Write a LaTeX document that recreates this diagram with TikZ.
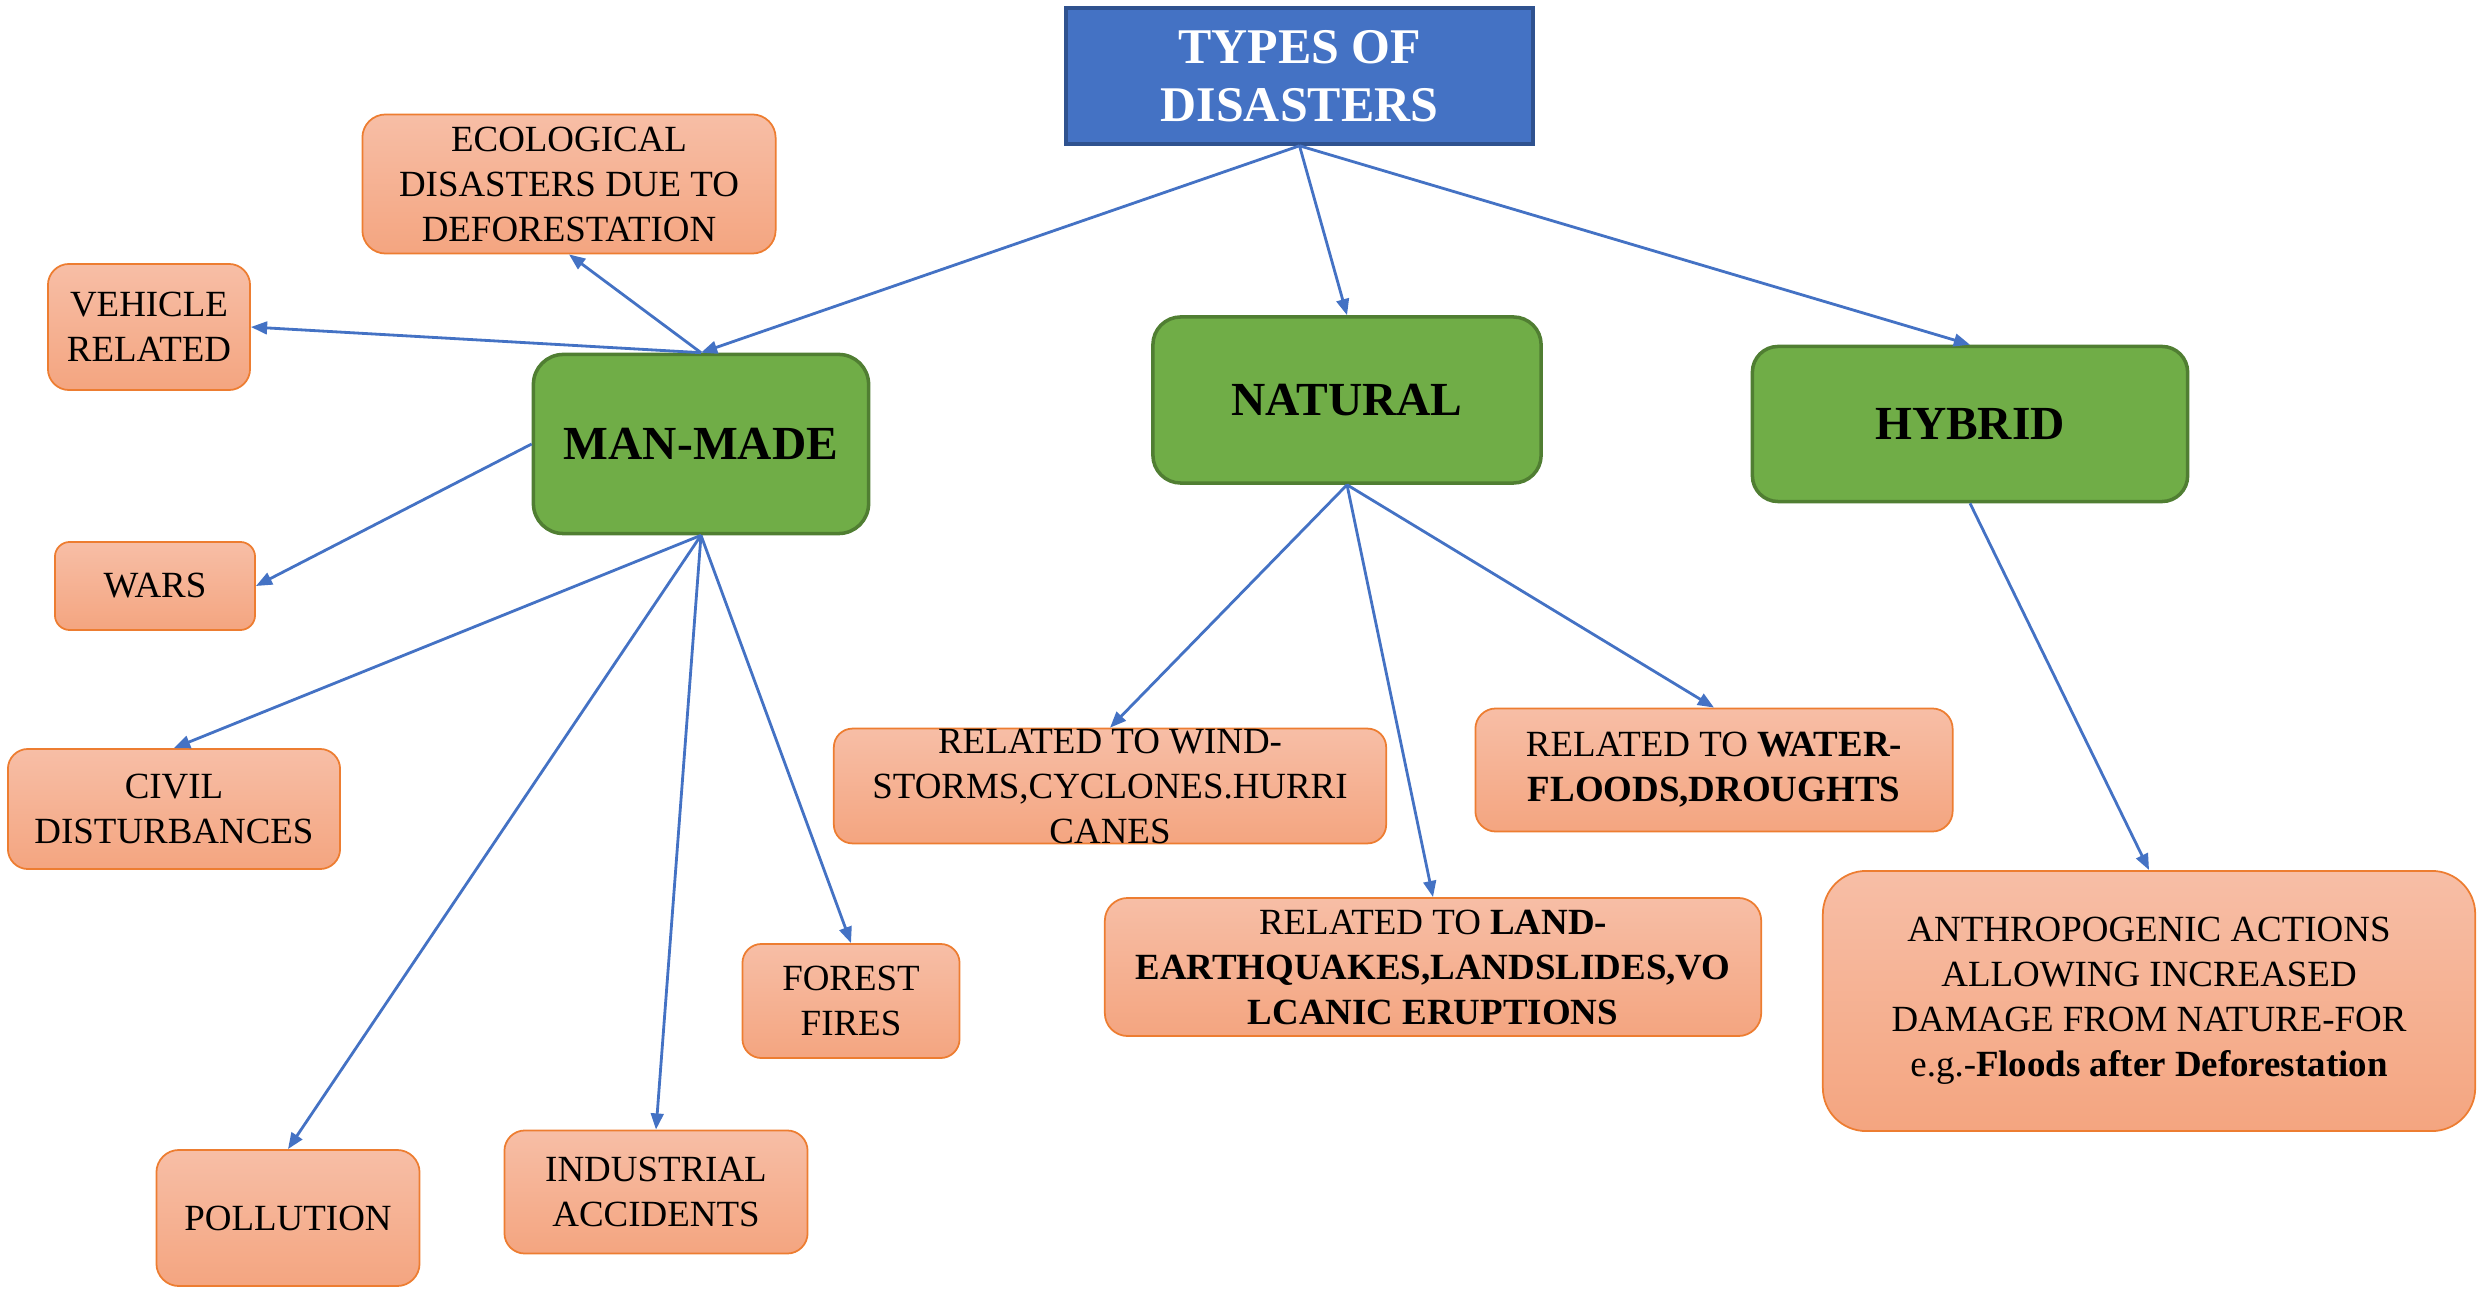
\documentclass[tikz,border=0pt]{standalone}
\usepackage{fontspec}
\setmainfont{Liberation Serif}
\usepackage{xcolor}
\usetikzlibrary{arrows.meta,positioning}

\definecolor{headfill}{HTML}{4472C4}
\definecolor{headline}{HTML}{2F528F}
\definecolor{groupfill}{HTML}{70AD47}
\definecolor{groupline}{HTML}{507E32}
\definecolor{leaftop}{HTML}{F7BEA6}
\definecolor{leafbot}{HTML}{F4A580}
\definecolor{leafline}{HTML}{ED7D31}
\definecolor{linkblue}{HTML}{4472C4}

\tikzset{
    head/.style={draw=headline, line width=1pt, fill=headfill, text=white, align=center, inner sep=0pt,
        font=\fontsize{14.2}{16.4}\selectfont\bfseries},
    group/.style={draw=groupline, line width=1pt, fill=groupfill, align=center, inner sep=0pt,
        font=\fontsize{13.5}{16}\selectfont\bfseries},
    leaf/.style={draw=leafline, line width=0.5pt, top color=leaftop, bottom color=leafbot, align=center, inner sep=0pt,
        font=\fontsize{10.5}{12.8}\selectfont},
    link/.style={-{Triangle[length=4.6pt,width=3.6pt]}, draw=linkblue, line width=0.8pt},
}

\begin{document}
\begin{tikzpicture}[x=0.01cm, y=-0.01cm]
    \useasboundingbox (0,0) rectangle (2483,1289);

    % top of the tree
    \node[head, minimum width=4.67cm, minimum height=1.36cm] (types) at (1299.5,76) {TYPES OF\\DISASTERS};

    % the three groups
    \node[group, minimum width=3.35cm, minimum height=1.79cm, rounded corners=8.5pt] (manmade) at (701,444) {MAN-MADE};
    \node[group, minimum width=3.88cm, minimum height=1.66cm, rounded corners=7.9pt] (natural) at (1347,400) {NATURAL};
    \node[group, minimum width=4.35cm, minimum height=1.55cm, rounded corners=7.3pt] (hybrid) at (1970,424) {HYBRID};

    % man-made disasters
    \node[leaf, minimum width=4.13cm, minimum height=1.39cm, rounded corners=6.6pt] (eco) at (569,184) {ECOLOGICAL\\DISASTERS DUE TO\\DEFORESTATION};
    \node[leaf, minimum width=2.02cm, minimum height=1.26cm, rounded corners=6pt] (vehicle) at (149,327) {VEHICLE\\RELATED};
    \node[leaf, minimum width=2.00cm, minimum height=0.88cm, rounded corners=4.2pt] (wars) at (155,586) {WARS};
    \node[leaf, minimum width=3.32cm, minimum height=1.20cm, rounded corners=5.7pt] (civil) at (174,809) {CIVIL\\DISTURBANCES};
    \node[leaf, minimum width=2.63cm, minimum height=1.36cm, rounded corners=6.4pt] (pollution) at (288,1218) {POLLUTION};
    \node[leaf, minimum width=3.03cm, minimum height=1.23cm, rounded corners=5.8pt] (industrial) at (656,1192) {INDUSTRIAL\\ACCIDENTS};
    \node[leaf, minimum width=2.17cm, minimum height=1.14cm, rounded corners=5.4pt] (forest) at (851,1001) {FOREST\\FIRES};

    % natural disasters
    \node[leaf, minimum width=5.52cm, minimum height=1.12cm, rounded corners=5.3pt] (wind) at (1110,786) {RELATED TO WIND-\\STORMS,CYCLONES.HURRI\\CANES};
    \node[leaf, minimum width=4.77cm, minimum height=1.23cm, rounded corners=5.8pt] (water) at (1714,770) {RELATED TO \textbf{WATER-}\\\textbf{FLOODS,DROUGHTS}};
    \node[leaf, minimum width=6.56cm, minimum height=1.38cm, rounded corners=6.5pt] (land) at (1433,967) {RELATED TO \textbf{LAND-}\\\textbf{EARTHQUAKES,LANDSLIDES,VO}\\\textbf{LCANIC ERUPTIONS}};

    % hybrid disasters
    \node[leaf, minimum width=6.52cm, minimum height=2.60cm, rounded corners=12.3pt] (anthro) at (2149,1001) {ANTHROPOGENIC ACTIONS\\ALLOWING INCREASED\\DAMAGE FROM NATURE-FOR\\e.g.-\textbf{Floods after Deforestation}};

    % connectors
    \draw[link] (types.south) -- (manmade.north);
    \draw[link] (types.south) -- (natural.north);
    \draw[link] (types.south) -- (hybrid.north);

    \draw[link] (manmade.north) -- (eco.south);
    \draw[link] (manmade.north) -- (vehicle.east);
    \draw[link] (manmade.west) -- (wars.east);
    \draw[link] (manmade.south) -- (civil.north);
    \draw[link] (manmade.south) -- (pollution.north);
    \draw[link] (manmade.south) -- (industrial.north);
    \draw[link] (manmade.south) -- (forest.north);

    \draw[link] (natural.south) -- (wind.north);
    \draw[link] (natural.south) -- (land.north);
    \draw[link] (natural.south) -- (water.north);

    \draw[link] (hybrid.south) -- (anthro.north);
\end{tikzpicture}
\end{document}
